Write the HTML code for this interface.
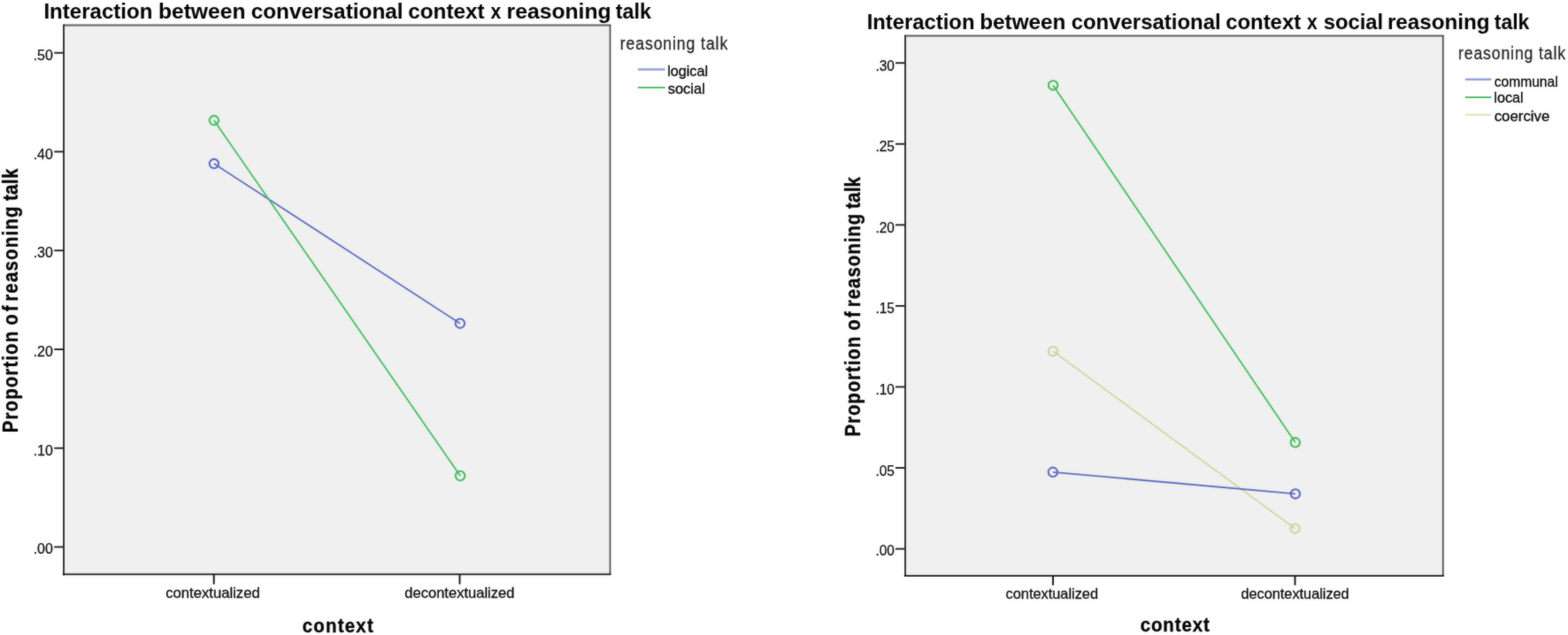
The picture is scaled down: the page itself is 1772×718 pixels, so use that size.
<!DOCTYPE html>
<html lang="en">
<head>
<meta charset="utf-8">
<title>Interaction between conversational context x reasoning talk</title>
<style>
html,body{margin:0;padding:0;background:#fff;overflow:hidden}
svg{display:block;font-family:'Liberation Sans', Arial, Helvetica, sans-serif}
</style>
</head>
<body>
<svg width="1772" height="718" viewBox="0 0 1772 718">
<defs>
<filter id="soft" x="-10" y="-10" width="1792" height="738" filterUnits="userSpaceOnUse" color-interpolation-filters="sRGB"><feGaussianBlur stdDeviation="0.8" result="b"/><feComposite in="SourceGraphic" in2="b" operator="arithmetic" k1="0" k2="0.6" k3="0.4" k4="0"/></filter>
</defs>
<g filter="url(#soft)">
<rect x="-10" y="-10" width="1792" height="738" fill="#ffffff"/>
<g id="chart-left">
<rect x="72.05" y="28.6" width="617.45" height="620.85" fill="#f0f0f0"/>
<line x1="72.05" y1="28.6" x2="690.50" y2="28.6" stroke="#5c5c5c" stroke-width="2.0"/>
<line x1="689.5" y1="28.6" x2="689.5" y2="649.45" stroke="#484848" stroke-width="1.7"/>
<line x1="72.05" y1="27.60" x2="72.05" y2="650.45" stroke="#1e1e1e" stroke-width="1.8"/>
<line x1="70.85" y1="649.45" x2="690.50" y2="649.45" stroke="#161616" stroke-width="1.7"/>
<line x1="61.25" y1="59.75" x2="72.05" y2="59.75" stroke="#1e1e1e" stroke-width="1.9"/>
<text x="37.66" y="67.72" font-size="17.1" fill="#0a0a0a" stroke="#0a0a0a" stroke-width="0.25" stroke-linejoin="round" textLength="22.22" lengthAdjust="spacingAndGlyphs">.50</text>
<line x1="61.25" y1="171.49" x2="72.05" y2="171.49" stroke="#1e1e1e" stroke-width="1.9"/>
<text x="37.66" y="179.87" font-size="17.1" fill="#0a0a0a" stroke="#0a0a0a" stroke-width="0.25" stroke-linejoin="round" textLength="22.22" lengthAdjust="spacingAndGlyphs">.40</text>
<line x1="61.25" y1="283.23" x2="72.05" y2="283.23" stroke="#1e1e1e" stroke-width="1.9"/>
<text x="37.66" y="290.64" font-size="17.1" fill="#0a0a0a" stroke="#0a0a0a" stroke-width="0.25" stroke-linejoin="round" textLength="22.22" lengthAdjust="spacingAndGlyphs">.30</text>
<line x1="61.25" y1="394.97" x2="72.05" y2="394.97" stroke="#1e1e1e" stroke-width="1.9"/>
<text x="37.66" y="402.64" font-size="17.1" fill="#0a0a0a" stroke="#0a0a0a" stroke-width="0.25" stroke-linejoin="round" textLength="22.22" lengthAdjust="spacingAndGlyphs">.20</text>
<line x1="61.25" y1="506.71" x2="72.05" y2="506.71" stroke="#1e1e1e" stroke-width="1.9"/>
<text x="37.66" y="515.32" font-size="17.1" fill="#0a0a0a" stroke="#0a0a0a" stroke-width="0.25" stroke-linejoin="round" textLength="22.22" lengthAdjust="spacingAndGlyphs">.10</text>
<line x1="61.25" y1="618.45" x2="72.05" y2="618.45" stroke="#1e1e1e" stroke-width="1.9"/>
<text x="37.66" y="626.02" font-size="17.1" fill="#0a0a0a" stroke="#0a0a0a" stroke-width="0.25" stroke-linejoin="round" textLength="22.22" lengthAdjust="spacingAndGlyphs">.00</text>
<line x1="241.7" y1="649.45" x2="241.7" y2="660.6" stroke="#101010" stroke-width="1.9"/>
<text x="187.13" y="676.1" font-size="16.7" fill="#0a0a0a" stroke="#0a0a0a" stroke-width="0.3" stroke-linejoin="round" textLength="106.59" lengthAdjust="spacingAndGlyphs">contextualized</text>
<line x1="519.5" y1="649.45" x2="519.5" y2="660.6" stroke="#101010" stroke-width="1.9"/>
<text x="457.34" y="676.1" font-size="16.7" fill="#0a0a0a" stroke="#0a0a0a" stroke-width="0.3" stroke-linejoin="round" textLength="124.07" lengthAdjust="spacingAndGlyphs">decontextualized</text>
<line x1="241.9" y1="185.1" x2="519.9" y2="365.7" stroke="#5b6bbf" stroke-width="1.8"/>
<circle cx="241.9" cy="185.1" r="5.2" fill="none" stroke="#5b6bbf" stroke-width="2.1"/>
<circle cx="519.9" cy="365.7" r="5.2" fill="none" stroke="#5b6bbf" stroke-width="2.1"/>
<line x1="241.9" y1="136.1" x2="520.1" y2="538.0" stroke="#45be5e" stroke-width="1.8"/>
<circle cx="241.9" cy="136.1" r="5.2" fill="none" stroke="#45be5e" stroke-width="2.1"/>
<circle cx="520.1" cy="538.0" r="5.2" fill="none" stroke="#45be5e" stroke-width="2.1"/>
<text y="21.1" font-size="24.8" font-weight="bold" fill="#000" xml:space="preserve"><tspan x="49.44" textLength="123.03" lengthAdjust="spacingAndGlyphs">Interaction</tspan> <tspan x="178.90" textLength="98.60" lengthAdjust="spacingAndGlyphs">between</tspan> <tspan x="283.65" textLength="172.01" lengthAdjust="spacingAndGlyphs">conversational</tspan> <tspan x="461.15" textLength="86.55" lengthAdjust="spacingAndGlyphs">context</tspan> <tspan x="554.39" textLength="11.74" lengthAdjust="spacingAndGlyphs">x</tspan> <tspan x="572.59" textLength="118.03" lengthAdjust="spacingAndGlyphs">reasoning</tspan> <tspan x="695.77" textLength="40.14" lengthAdjust="spacingAndGlyphs">talk</tspan></text>
<text transform="translate(341.78 714.5) scale(1 1.11)" font-size="20.5" font-weight="bold" fill="#000" stroke="#000" stroke-width="0.3" stroke-linejoin="round" textLength="79.98" lengthAdjust="spacing">context</text>
<text transform="translate(19.9 0) rotate(-90) scale(1 1.13)" y="0" font-size="20.5" font-weight="bold" fill="#000" stroke="#000" stroke-width="0.3" stroke-linejoin="round" xml:space="preserve"><tspan x="-489.23" textLength="114.38" lengthAdjust="spacing">Proportion</tspan> <tspan x="-367.72" textLength="22.28" lengthAdjust="spacing">of</tspan> <tspan x="-340.83" textLength="107.38" lengthAdjust="spacing">reasoning</tspan> <tspan x="-227.11" textLength="36.43" lengthAdjust="spacing">talk</tspan></text>
<text transform="translate(700.76 56.0) scale(1 1.2)" font-size="17.6" fill="#1e1e1e" stroke="#1e1e1e" stroke-width="0.25" stroke-linejoin="round" textLength="121.46" lengthAdjust="spacing">reasoning talk</text>
<line x1="720.8" y1="78.5" x2="751.6" y2="78.5" stroke="#93a0d8" stroke-width="2.5"/>
<text x="754.15" y="86.4" font-size="16.4" fill="#050505" stroke="#050505" stroke-width="0.3" stroke-linejoin="round" textLength="45.86" lengthAdjust="spacingAndGlyphs">logical</text>
<line x1="720.8" y1="99.0" x2="751.6" y2="99.0" stroke="#4fc068" stroke-width="2.0"/>
<text x="754.69" y="105.7" font-size="16.4" fill="#050505" stroke="#050505" stroke-width="0.3" stroke-linejoin="round" textLength="42.14" lengthAdjust="spacingAndGlyphs">social</text>
</g>
<g id="chart-right">
<rect x="1023.0" y="40.6" width="607.80" height="610.50" fill="#f0f0f0"/>
<line x1="1023.0" y1="40.6" x2="1631.80" y2="40.6" stroke="#5c5c5c" stroke-width="2.0"/>
<line x1="1630.8" y1="40.6" x2="1630.8" y2="651.1" stroke="#484848" stroke-width="1.7"/>
<line x1="1023.0" y1="39.60" x2="1023.0" y2="652.10" stroke="#1e1e1e" stroke-width="1.8"/>
<line x1="1021.80" y1="651.1" x2="1631.80" y2="651.1" stroke="#161616" stroke-width="1.7"/>
<line x1="1012.00" y1="71.2" x2="1023.0" y2="71.2" stroke="#1e1e1e" stroke-width="1.9"/>
<text x="989.41" y="79.9" font-size="17.1" fill="#0a0a0a" stroke="#0a0a0a" stroke-width="0.25" stroke-linejoin="round" textLength="21.45" lengthAdjust="spacingAndGlyphs">.30</text>
<line x1="1012.00" y1="162.77" x2="1023.0" y2="162.77" stroke="#1e1e1e" stroke-width="1.9"/>
<text x="989.41" y="170.97" font-size="17.1" fill="#0a0a0a" stroke="#0a0a0a" stroke-width="0.25" stroke-linejoin="round" textLength="21.53" lengthAdjust="spacingAndGlyphs">.25</text>
<line x1="1012.00" y1="254.33" x2="1023.0" y2="254.33" stroke="#1e1e1e" stroke-width="1.9"/>
<text x="989.41" y="263.13" font-size="17.1" fill="#0a0a0a" stroke="#0a0a0a" stroke-width="0.25" stroke-linejoin="round" textLength="21.45" lengthAdjust="spacingAndGlyphs">.20</text>
<line x1="1012.00" y1="345.9" x2="1023.0" y2="345.9" stroke="#1e1e1e" stroke-width="1.9"/>
<text x="989.41" y="354.13" font-size="17.1" fill="#0a0a0a" stroke="#0a0a0a" stroke-width="0.25" stroke-linejoin="round" textLength="21.53" lengthAdjust="spacingAndGlyphs">.15</text>
<line x1="1012.00" y1="437.47" x2="1023.0" y2="437.47" stroke="#1e1e1e" stroke-width="1.9"/>
<text x="989.41" y="446.42" font-size="17.1" fill="#0a0a0a" stroke="#0a0a0a" stroke-width="0.25" stroke-linejoin="round" textLength="21.45" lengthAdjust="spacingAndGlyphs">.10</text>
<line x1="1012.00" y1="529.03" x2="1023.0" y2="529.03" stroke="#1e1e1e" stroke-width="1.9"/>
<text x="989.41" y="537.57" font-size="17.1" fill="#0a0a0a" stroke="#0a0a0a" stroke-width="0.25" stroke-linejoin="round" textLength="21.53" lengthAdjust="spacingAndGlyphs">.05</text>
<line x1="1012.00" y1="620.6" x2="1023.0" y2="620.6" stroke="#1e1e1e" stroke-width="1.9"/>
<text x="989.41" y="628.2" font-size="17.1" fill="#0a0a0a" stroke="#0a0a0a" stroke-width="0.25" stroke-linejoin="round" textLength="21.45" lengthAdjust="spacingAndGlyphs">.00</text>
<line x1="1190.0" y1="651.1" x2="1190.0" y2="661.7" stroke="#101010" stroke-width="1.9"/>
<text x="1136.55" y="676.9" font-size="16.5" fill="#0a0a0a" stroke="#0a0a0a" stroke-width="0.3" stroke-linejoin="round" textLength="104.45" lengthAdjust="spacingAndGlyphs">contextualized</text>
<line x1="1463.5" y1="651.1" x2="1463.5" y2="661.7" stroke="#101010" stroke-width="1.9"/>
<text x="1402.45" y="676.9" font-size="16.5" fill="#0a0a0a" stroke="#0a0a0a" stroke-width="0.3" stroke-linejoin="round" textLength="122.25" lengthAdjust="spacingAndGlyphs">decontextualized</text>
<line x1="1190.1" y1="397.2" x2="1463.5" y2="597.7" stroke="#d3d19a" stroke-width="1.6"/>
<circle cx="1190.1" cy="397.2" r="5.2" fill="none" stroke="#d3d19a" stroke-width="2.1"/>
<circle cx="1463.5" cy="597.7" r="5.2" fill="none" stroke="#d3d19a" stroke-width="2.1"/>
<line x1="1189.9" y1="533.8" x2="1463.9" y2="558.4" stroke="#5b6bbf" stroke-width="1.8"/>
<circle cx="1189.9" cy="533.8" r="5.2" fill="none" stroke="#5b6bbf" stroke-width="2.1"/>
<circle cx="1463.9" cy="558.4" r="5.2" fill="none" stroke="#5b6bbf" stroke-width="2.1"/>
<line x1="1190.1" y1="96.4" x2="1463.8" y2="500.3" stroke="#45be5e" stroke-width="1.8"/>
<circle cx="1190.1" cy="96.4" r="5.2" fill="none" stroke="#45be5e" stroke-width="2.1"/>
<circle cx="1463.8" cy="500.3" r="5.2" fill="none" stroke="#45be5e" stroke-width="2.1"/>
<text y="33.3" font-size="24.1" font-weight="bold" fill="#000" xml:space="preserve"><tspan x="979.65" textLength="121.80" lengthAdjust="spacingAndGlyphs">Interaction</tspan> <tspan x="1107.22" textLength="97.26" lengthAdjust="spacingAndGlyphs">between</tspan> <tspan x="1210.66" textLength="168.96" lengthAdjust="spacingAndGlyphs">conversational</tspan> <tspan x="1385.16" textLength="85.03" lengthAdjust="spacingAndGlyphs">context</tspan> <tspan x="1476.89" textLength="11.74" lengthAdjust="spacingAndGlyphs">x</tspan> <tspan x="1495.67" textLength="67.45" lengthAdjust="spacingAndGlyphs">social</tspan> <tspan x="1567.93" textLength="115.67" lengthAdjust="spacingAndGlyphs">reasoning</tspan> <tspan x="1688.77" textLength="39.64" lengthAdjust="spacingAndGlyphs">talk</tspan></text>
<text transform="translate(1288.68 713.8) scale(1 1.1)" font-size="20.5" font-weight="bold" fill="#000" stroke="#000" stroke-width="0.3" stroke-linejoin="round" textLength="78.18" lengthAdjust="spacing">context</text>
<text transform="translate(971.6 0) rotate(-90) scale(1 1.13)" y="0" font-size="20.5" font-weight="bold" fill="#000" stroke="#000" stroke-width="0.3" stroke-linejoin="round" xml:space="preserve"><tspan x="-493.53" textLength="112.68" lengthAdjust="spacing">Proportion</tspan> <tspan x="-373.82" textLength="21.58" lengthAdjust="spacing">of</tspan> <tspan x="-347.23" textLength="105.58" lengthAdjust="spacing">reasoning</tspan> <tspan x="-235.91" textLength="35.83" lengthAdjust="spacing">talk</tspan></text>
<text transform="translate(1648.06 67.2) scale(1 1.2)" font-size="17.6" fill="#1e1e1e" stroke="#1e1e1e" stroke-width="0.25" stroke-linejoin="round" textLength="120.96" lengthAdjust="spacing">reasoning talk</text>
<line x1="1655.8" y1="89.8" x2="1685.4" y2="89.8" stroke="#93a0d8" stroke-width="2.5"/>
<text x="1688.78" y="97.6" font-size="16.4" fill="#050505" stroke="#050505" stroke-width="0.3" stroke-linejoin="round" textLength="71.89" lengthAdjust="spacingAndGlyphs">communal</text>
<line x1="1655.8" y1="110.0" x2="1685.4" y2="110.0" stroke="#4fc068" stroke-width="2.0"/>
<text x="1688.35" y="116.3" font-size="16.4" fill="#050505" stroke="#050505" stroke-width="0.3" stroke-linejoin="round" textLength="33.15" lengthAdjust="spacingAndGlyphs">local</text>
<line x1="1655.8" y1="129.7" x2="1685.4" y2="129.7" stroke="#deddb8" stroke-width="1.9"/>
<text x="1688.73" y="137.4" font-size="16.4" fill="#050505" stroke="#050505" stroke-width="0.3" stroke-linejoin="round" textLength="62.56" lengthAdjust="spacingAndGlyphs">coercive</text>
</g>
</g>
</svg>
</body>
</html>
